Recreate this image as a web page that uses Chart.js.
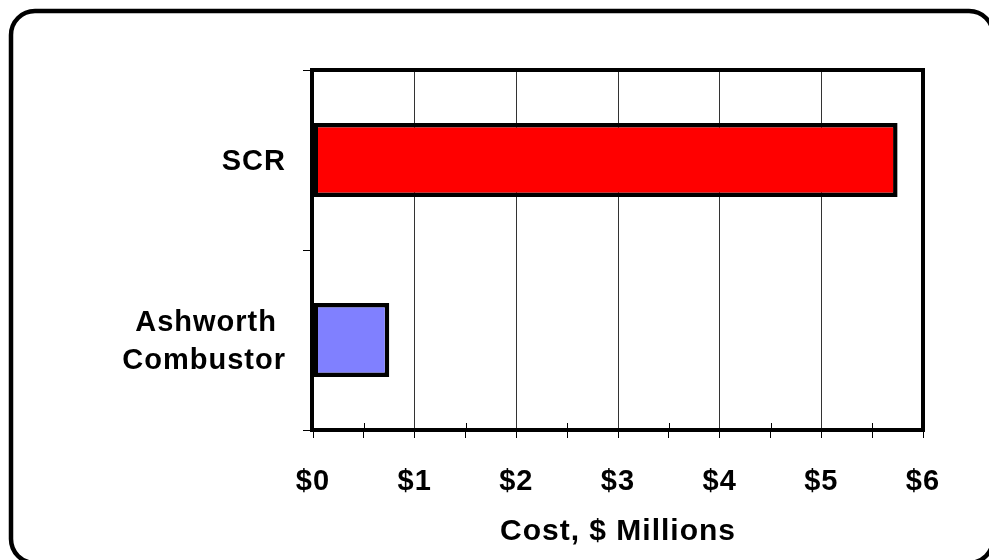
<!DOCTYPE html>
<html>
<head>
<meta charset="utf-8">
<script src="https://cdn.jsdelivr.net/npm/chart.js@4.4.1/dist/chart.umd.min.js"></script>
<style>
  html, body { margin: 0; padding: 0; background: #fff; }
  canvas { display: block; }
</style>
</head>
<body>
<canvas id="chart" width="989" height="560"></canvas>
<script>
const categories = ['SCR', ['Ashworth ', 'Combustor']]
const costs = [5.75, 0.75]
const barColors = ['#ff0000', '#8080ff']
const axisTitle = 'Cost, $ Millions'

const FONT = '"Liberation Sans", Arial, sans-serif'

// frame around the whole picture + thick plot box + small inward minor ticks
const framePlugin = {
  id: 'frame',
  beforeDraw(chart) {
    chart.ctx.letterSpacing = '1px'
  },
  afterDatasetsDraw(chart) {
    const { ctx, chartArea: a, scales } = chart
    ctx.save()
    ctx.strokeStyle = '#000'
    ctx.lineWidth = 1
    ctx.beginPath()
    for (let v = 0.5; v < 6; v += 1) {
      const x = Math.round(scales.x.getPixelForValue(v)) + 0.5
      ctx.moveTo(x, a.bottom - 7)
      ctx.lineTo(x, a.bottom)
    }
    ctx.stroke()
    ctx.lineWidth = 4
    ctx.strokeRect(a.left - 1, a.top, a.right - a.left + 1, a.bottom - a.top)
    ctx.restore()
  },
  afterDraw(chart) {
    const { ctx } = chart
    ctx.save()
    ctx.strokeStyle = '#000'
    ctx.lineWidth = 4.5
    ctx.beginPath()
    ctx.roundRect(11, 11, 982, 552, 24)
    ctx.stroke()
    ctx.restore()
  },
}

new Chart(document.getElementById('chart'), {
  type: 'bar',
  data: {
    labels: categories,
    datasets: [
      {
        data: costs,
        backgroundColor: barColors,
        borderColor: '#000',
        borderWidth: 4.5,
        borderSkipped: false,
        categoryPercentage: 1,
        barPercentage: 0.41,
      },
    ],
  },
  options: {
    indexAxis: 'y',
    responsive: false,
    animation: false,
    layout: { padding: { top: 70, right: 66, left: 0, bottom: 0 } },
    plugins: {
      legend: { display: false },
      tooltip: { enabled: false },
    },
    scales: {
      x: {
        min: 0,
        max: 6,
        afterFit: (s) => { s.height = 130 },
        ticks: {
          stepSize: 0.5,
          autoSkip: false,
          maxRotation: 0,
          padding: 27,
          color: '#000',
          font: { family: FONT, size: 29, weight: 'bold' },
          callback: (v) => (Number.isInteger(v) ? '$' + v : ''),
        },
        grid: {
          color: (c) => (c.tick && Number.isInteger(c.tick.value) ? '#333' : 'transparent'),
          tickColor: '#000',
          tickLength: 8,
          lineWidth: 1,
        },
        border: { display: false },
        title: {
          display: true,
          text: axisTitle,
          color: '#000',
          font: { family: FONT, size: 30, weight: 'bold' },
          padding: { top: 0, bottom: 10 },
        },
      },
      y: {
        afterFit: (s) => { s.width = 313 },
        ticks: {
          padding: 17,
          labelOffset: 2,
          color: '#000',
          font: { family: FONT, size: 29, weight: 'bold', lineHeight: 1.31 },
        },
        grid: {
          offset: true,
          drawOnChartArea: false,
          tickColor: '#000',
          tickLength: 10,
          lineWidth: 1,
        },
        border: { display: false },
      },
    },
  },
  plugins: [framePlugin],
})
</script>
</body>
</html>
